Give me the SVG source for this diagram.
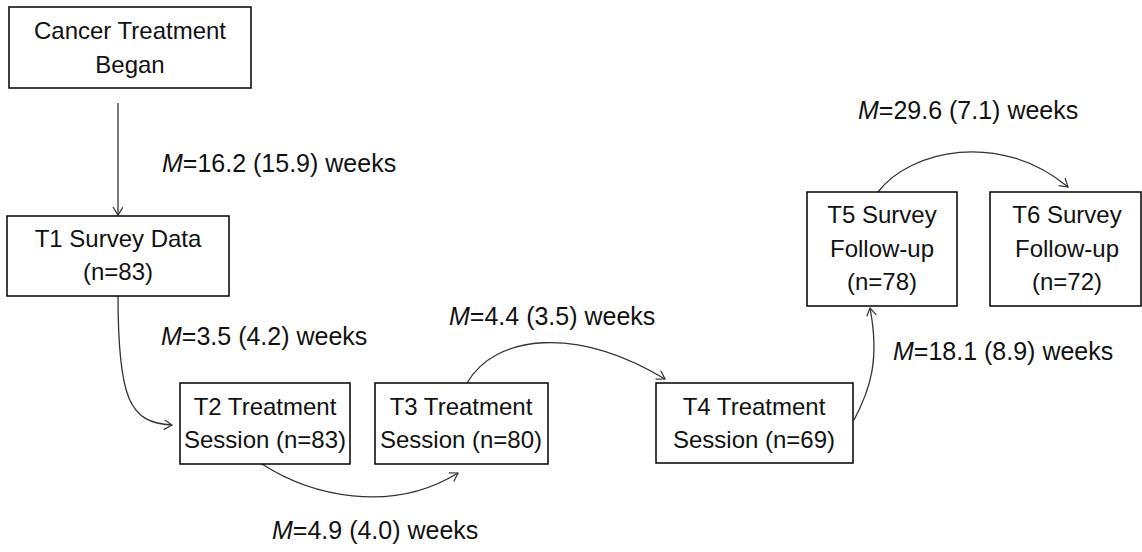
<svg xmlns="http://www.w3.org/2000/svg" width="1142" height="552" viewBox="0 0 1142 552">
<style>
.box{fill:#fff;stroke:#000;stroke-width:1.5}
.t{font-family:"Liberation Sans",Arial,sans-serif;font-size:24px;fill:#111;text-anchor:middle}
.l{font-family:"Liberation Sans",Arial,sans-serif;font-size:25px;fill:#111}
.c{fill:none;stroke:#333;stroke-width:1.3;marker-end:url(#arr)}
</style>
<defs>
<marker id="arr" markerWidth="12" markerHeight="12" refX="9" refY="5" orient="auto" markerUnits="userSpaceOnUse">
<path d="M1,0 L9,5 L1,10" fill="none" stroke="#333" stroke-width="1.2"/>
</marker>
</defs>
<rect width="1142" height="552" fill="#fff"/>
<g id="connectors">
<path class="c" d="M118,103 L118,215"/>
<path class="c" d="M118,296 C118,400 130,423 172,425"/>
<path class="c" d="M262,464 C310,495 390,515 458,473"/>
<path class="c" d="M467,383 C495,335 575,325 665,379"/>
<path class="c" d="M854,420 C870,390 880,360 870,308"/>
<path class="c" d="M878,192 C910,150 1000,130 1068,187"/>
</g>
<g id="labels">
<text class="l" x="162" y="172"><tspan font-style="italic">M</tspan>=16.2 (15.9) weeks</text>
<text class="l" x="161" y="345"><tspan font-style="italic">M</tspan>=3.5 (4.2) weeks</text>
<text class="l" x="449" y="325"><tspan font-style="italic">M</tspan>=4.4 (3.5) weeks</text>
<text class="l" x="272" y="539"><tspan font-style="italic">M</tspan>=4.9 (4.0) weeks</text>
<text class="l" x="858" y="119"><tspan font-style="italic">M</tspan>=29.6 (7.1) weeks</text>
<text class="l" x="893" y="360"><tspan font-style="italic">M</tspan>=18.1 (8.9) weeks</text>
</g>
<g id="n0">
<rect class="box" x="9" y="7" width="242" height="81"/>
<text class="t" x="130" y="39">Cancer Treatment</text>
<text class="t" x="130" y="73">Began</text>
</g>
<g id="n1">
<rect class="box" x="7" y="216" width="222" height="80"/>
<text class="t" x="118" y="247">T1 Survey Data</text>
<text class="t" x="118" y="280">(n=83)</text>
</g>
<g id="n2">
<rect class="box" x="180" y="383" width="170" height="81"/>
<text class="t" x="265" y="415">T2 Treatment</text>
<text class="t" x="265" y="448">Session (n=83)</text>
</g>
<g id="n3">
<rect class="box" x="375" y="383" width="173" height="81"/>
<text class="t" x="461" y="415">T3 Treatment</text>
<text class="t" x="461" y="448">Session (n=80)</text>
</g>
<g id="n4">
<rect class="box" x="656" y="383" width="197" height="80"/>
<text class="t" x="754" y="415">T4 Treatment</text>
<text class="t" x="754" y="448">Session (n=69)</text>
</g>
<g id="n5">
<rect class="box" x="807" y="192" width="150" height="114"/>
<text class="t" x="882" y="223">T5 Survey</text>
<text class="t" x="882" y="257">Follow-up</text>
<text class="t" x="882" y="290">(n=78)</text>
</g>
<g id="n6">
<rect class="box" x="990" y="192" width="151" height="114"/>
<text class="t" x="1067" y="223">T6 Survey</text>
<text class="t" x="1067" y="257">Follow-up</text>
<text class="t" x="1067" y="290">(n=72)</text>
</g>
</svg>
